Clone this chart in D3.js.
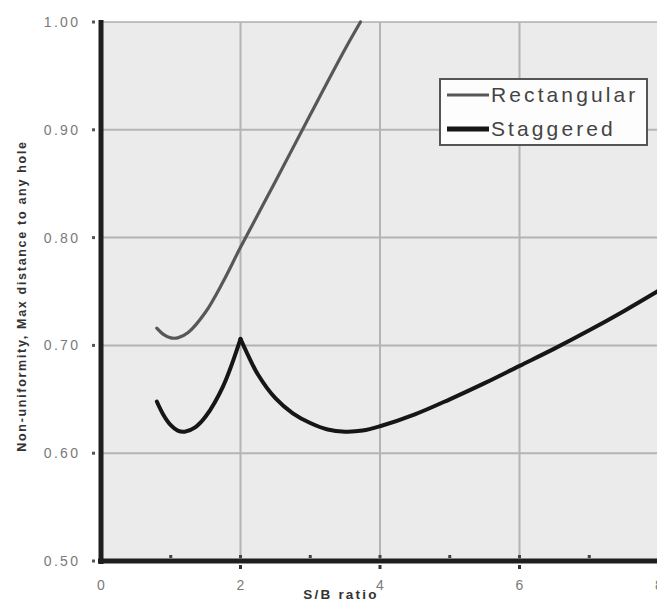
<!DOCTYPE html>
<html>
<head>
<meta charset="utf-8">
<script src="https://cdn.jsdelivr.net/npm/d3@7"></script>
<style>
  html, body { margin: 0; padding: 0; background: #fff; }
  svg { display: block; }
  text { font-family: "Liberation Sans", Arial, sans-serif; }
</style>
</head>
<body>
<svg id="chart" width="657" height="604"></svg>
<script>
// S/B ratio sample points and non-uniformity values
const rectX = [0.80, 0.90, 1.00, 1.10, 1.25, 1.50, 1.75, 2.00, 2.50, 3.00, 3.50, 3.72];
const rectY = [0.716, 0.710, 0.707, 0.707, 0.712, 0.731, 0.759, 0.791, 0.852, 0.914, 0.975, 1.000];

const stagX = [0.80, 0.90, 1.00, 1.10, 1.20, 1.35, 1.50, 1.75, 2.00,
               2.10, 2.25, 2.50, 2.75, 3.00, 3.25, 3.50, 3.75, 4.00,
               4.50, 5.00, 5.50, 6.00, 6.50, 7.00, 7.50, 8.00];
const stagY = [0.648, 0.635, 0.626, 0.621, 0.620, 0.624, 0.634, 0.662, 0.706,
               0.692, 0.673, 0.651, 0.637, 0.628, 0.622, 0.620, 0.621, 0.625,
               0.636, 0.650, 0.665, 0.681, 0.697, 0.714, 0.732, 0.751];

const xTicks = [0, 2, 4, 6, 8];
const xMinor = [1, 3, 5, 7];
const yTicks = [0.50, 0.60, 0.70, 0.80, 0.90, 1.00];
const seriesNames = ["Rectangular", "Staggered"];

const svg = d3.select("#chart");
const x = d3.scaleLinear().domain([0, 8]).range([101, 659]);
const y = d3.scaleLinear().domain([0.5, 1.0]).range([561, 22]);

// plot background
svg.append("rect")
  .attr("x", x(0)).attr("y", y(1.0))
  .attr("width", x(8) - x(0)).attr("height", y(0.5) - y(1.0))
  .attr("fill", "#ebebeb");

// grid
svg.append("g").selectAll("line").data(yTicks.filter(d => d > 0.5)).join("line")
  .attr("x1", x(0)).attr("x2", x(8))
  .attr("y1", d => y(d)).attr("y2", d => y(d))
  .attr("stroke", d => d === 1.0 ? "#8a8a8a" : "#b4b4b4")
  .attr("stroke-width", d => d === 1.0 ? 1 : 2);
svg.append("g").selectAll("line").data(xTicks.filter(d => d > 0)).join("line")
  .attr("x1", d => x(d)).attr("x2", d => x(d))
  .attr("y1", y(1.0)).attr("y2", y(0.5))
  .attr("stroke", "#b4b4b4").attr("stroke-width", 2);

// curves
svg.append("clipPath").attr("id", "plot")
  .append("rect").attr("x", x(0)).attr("y", y(1.0) - 2)
  .attr("width", x(8) - x(0)).attr("height", y(0.5) - y(1.0) + 2);

const line = d3.line().x(d => x(d[0])).y(d => y(d[1])).curve(d3.curveCatmullRom.alpha(0.5));

const rect = rectX.map((v, i) => [v, rectY[i]]);
const stag = stagX.map((v, i) => [v, stagY[i]]);
// the staggered curve has a cusp at its local peak: draw it as two smooth pieces
const peak = stagX.indexOf(2.0);
const stagParts = [stag.slice(0, peak + 1), stag.slice(peak)];

const curves = svg.append("g").attr("clip-path", "url(#plot)");
curves.append("path").datum(rect).attr("d", line)
  .attr("fill", "none").attr("stroke", "#575757").attr("stroke-width", 3.2)
  .attr("stroke-linecap", "round");
curves.selectAll("path.stag").data(stagParts).join("path").attr("class", "stag")
  .attr("d", line)
  .attr("fill", "none").attr("stroke", "#161616").attr("stroke-width", 4)
  .attr("stroke-linecap", "round").attr("stroke-linejoin", "round");

// axes lines
svg.append("line").attr("x1", x(0)).attr("x2", x(0)).attr("y1", y(1.0) - 2).attr("y2", y(0.5) + 3)
  .attr("stroke", "#1e1e1e").attr("stroke-width", 5);
svg.append("line").attr("x1", x(0) - 3).attr("x2", 657).attr("y1", y(0.5)).attr("y2", y(0.5))
  .attr("stroke", "#1e1e1e").attr("stroke-width", 5);

// tick marks
svg.append("g").selectAll("rect").data(yTicks).join("rect")
  .attr("x", x(0) - 9).attr("y", d => y(d) - 1.5).attr("width", 3).attr("height", 3)
  .attr("fill", "#555");
svg.append("g").selectAll("rect").data(xMinor.concat(xTicks.filter(d => d > 0))).join("rect")
  .attr("x", d => x(d) - 1.5).attr("y", y(0.5) - 6).attr("width", 3).attr("height", 3)
  .attr("fill", "#444");
svg.append("g").selectAll("rect").data(xTicks.filter(d => d > 0)).join("rect")
  .attr("x", d => x(d) - 1.5).attr("y", y(0.5) + 4).attr("width", 3).attr("height", 4)
  .attr("fill", "#333");

// tick labels
const tickLS = 2.3;
svg.append("g").selectAll("text").data(yTicks).join("text")
  .attr("x", 78 + tickLS).attr("y", d => y(d)).attr("dy", "0.36em")
  .attr("text-anchor", "end").attr("font-size", 14).attr("letter-spacing", tickLS).attr("fill", "#7a7a7a")
  .text(d => d3.format(".2f")(d));
svg.append("g").selectAll("text").data(xTicks).join("text")
  .attr("x", d => x(d)).attr("y", 590)
  .attr("text-anchor", "middle").attr("font-size", 14).attr("fill", "#7a7a7a")
  .text(d => d);

// axis titles
svg.append("text").attr("x", 341).attr("y", 599)
  .attr("text-anchor", "middle").attr("font-size", 13.5).attr("letter-spacing", 2.2)
  .attr("font-weight", "bold").attr("fill", "#333")
  .text("S/B ratio");
svg.append("text")
  .attr("transform", "translate(26,296) rotate(-90)")
  .attr("text-anchor", "middle").attr("font-size", 12.5).attr("letter-spacing", 1.7)
  .attr("font-weight", "bold").attr("fill", "#333")
  .text("Non-uniformity, Max distance to any hole");

// legend
const lg = svg.append("g");
lg.append("rect").attr("x", 440).attr("y", 79).attr("width", 207).attr("height", 66)
  .attr("fill", "#fdfdfd").attr("stroke", "#555").attr("stroke-width", 2);
const legendStyle = [{ color: "#575757", w: 3.2 }, { color: "#161616", w: 5 }];
seriesNames.forEach((name, i) => {
  const cy = 95 + i * 34;
  lg.append("line").attr("x1", 447).attr("x2", 489).attr("y1", cy).attr("y2", cy)
    .attr("stroke", legendStyle[i].color).attr("stroke-width", legendStyle[i].w);
  lg.append("text").attr("x", 491).attr("y", cy).attr("dy", "0.35em")
    .attr("font-size", 21).attr("letter-spacing", 3.1).attr("fill", "#444")
    .text(name);
});
</script>
</body>
</html>
